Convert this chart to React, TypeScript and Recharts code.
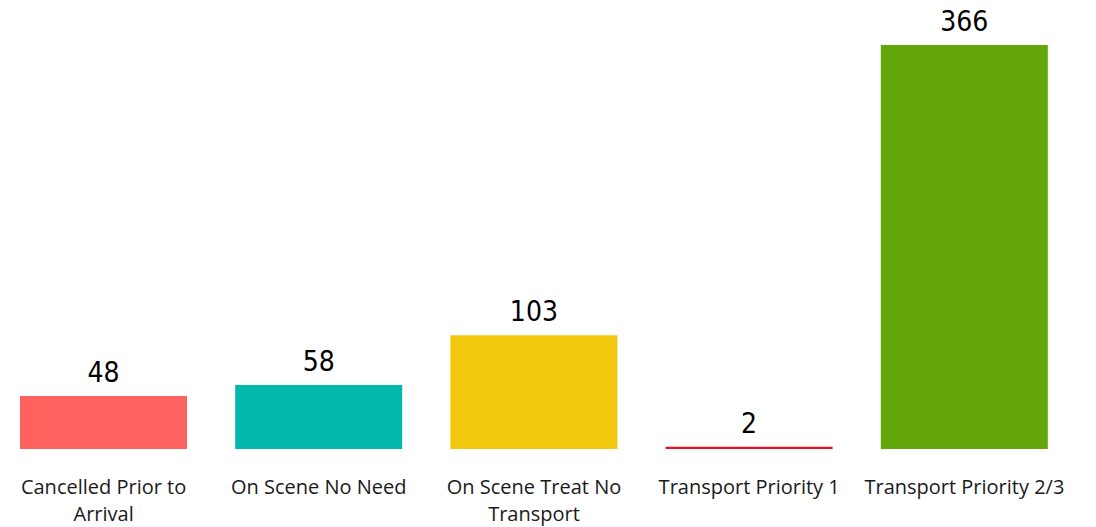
import React from "react";
import { BarChart, Bar, XAxis, YAxis, Cell, LabelList } from "recharts";

const categories = [
  "Cancelled Prior to Arrival",
  "On Scene No Need",
  "On Scene Treat No Transport",
  "Transport Priority 1",
  "Transport Priority 2/3",
];
const tickLines = [
  ["Cancelled Prior to", "Arrival"],
  ["On Scene No Need"],
  ["On Scene Treat No", "Transport"],
  ["Transport Priority 1"],
  ["Transport Priority 2/3"],
];
const values = [48, 58, 103, 2, 366];
const colors = ["#FD625E", "#01B8AA", "#F2C80F", "#E81123", "#64A70B"];

const data = categories.map((c, i) => ({ name: c, value: values[i], idx: i }));

const Tick = (props: any) => {
  const { x, y, index } = props;
  const lines = tickLines[index] || [];
  return (
    <text
      x={x}
      y={y}
      textAnchor="middle"
      fill="#1a1a1a"
      fontFamily="'Open Sans', 'Noto Sans', sans-serif"
      fontSize={20}
    >
      {lines.map((l, i) => (
        <tspan key={i} x={x} dy={i === 0 ? 45 : 27}>
          {l}
        </tspan>
      ))}
    </text>
  );
};

export default function App() {
  return (
    <div style={{ marginLeft: -12, marginTop: -8 }}>
      <BarChart
        width={1080}
        height={527}
        data={data}
        margin={{ top: 45, right: 4, left: 0, bottom: 0 }}
        barCategoryGap={24}
      >
        <XAxis
          dataKey="name"
          axisLine={false}
          tickLine={false}
          tickSize={0}
          tickMargin={0}
          tick={<Tick />}
          interval={0}
          height={78}
        />
        <YAxis hide domain={[0, 366]} />
        <Bar dataKey="value" isAnimationActive={false}>
          {data.map((d, i) => (
            <Cell key={i} fill={colors[i]} />
          ))}
          <LabelList
            dataKey="value"
            position="top"
            offset={14}
            fill="#000"
            fontSize={28}
            fontFamily="'DejaVu Sans Condensed', 'DejaVu Sans', sans-serif"
          />
        </Bar>
      </BarChart>
    </div>
  );
}
